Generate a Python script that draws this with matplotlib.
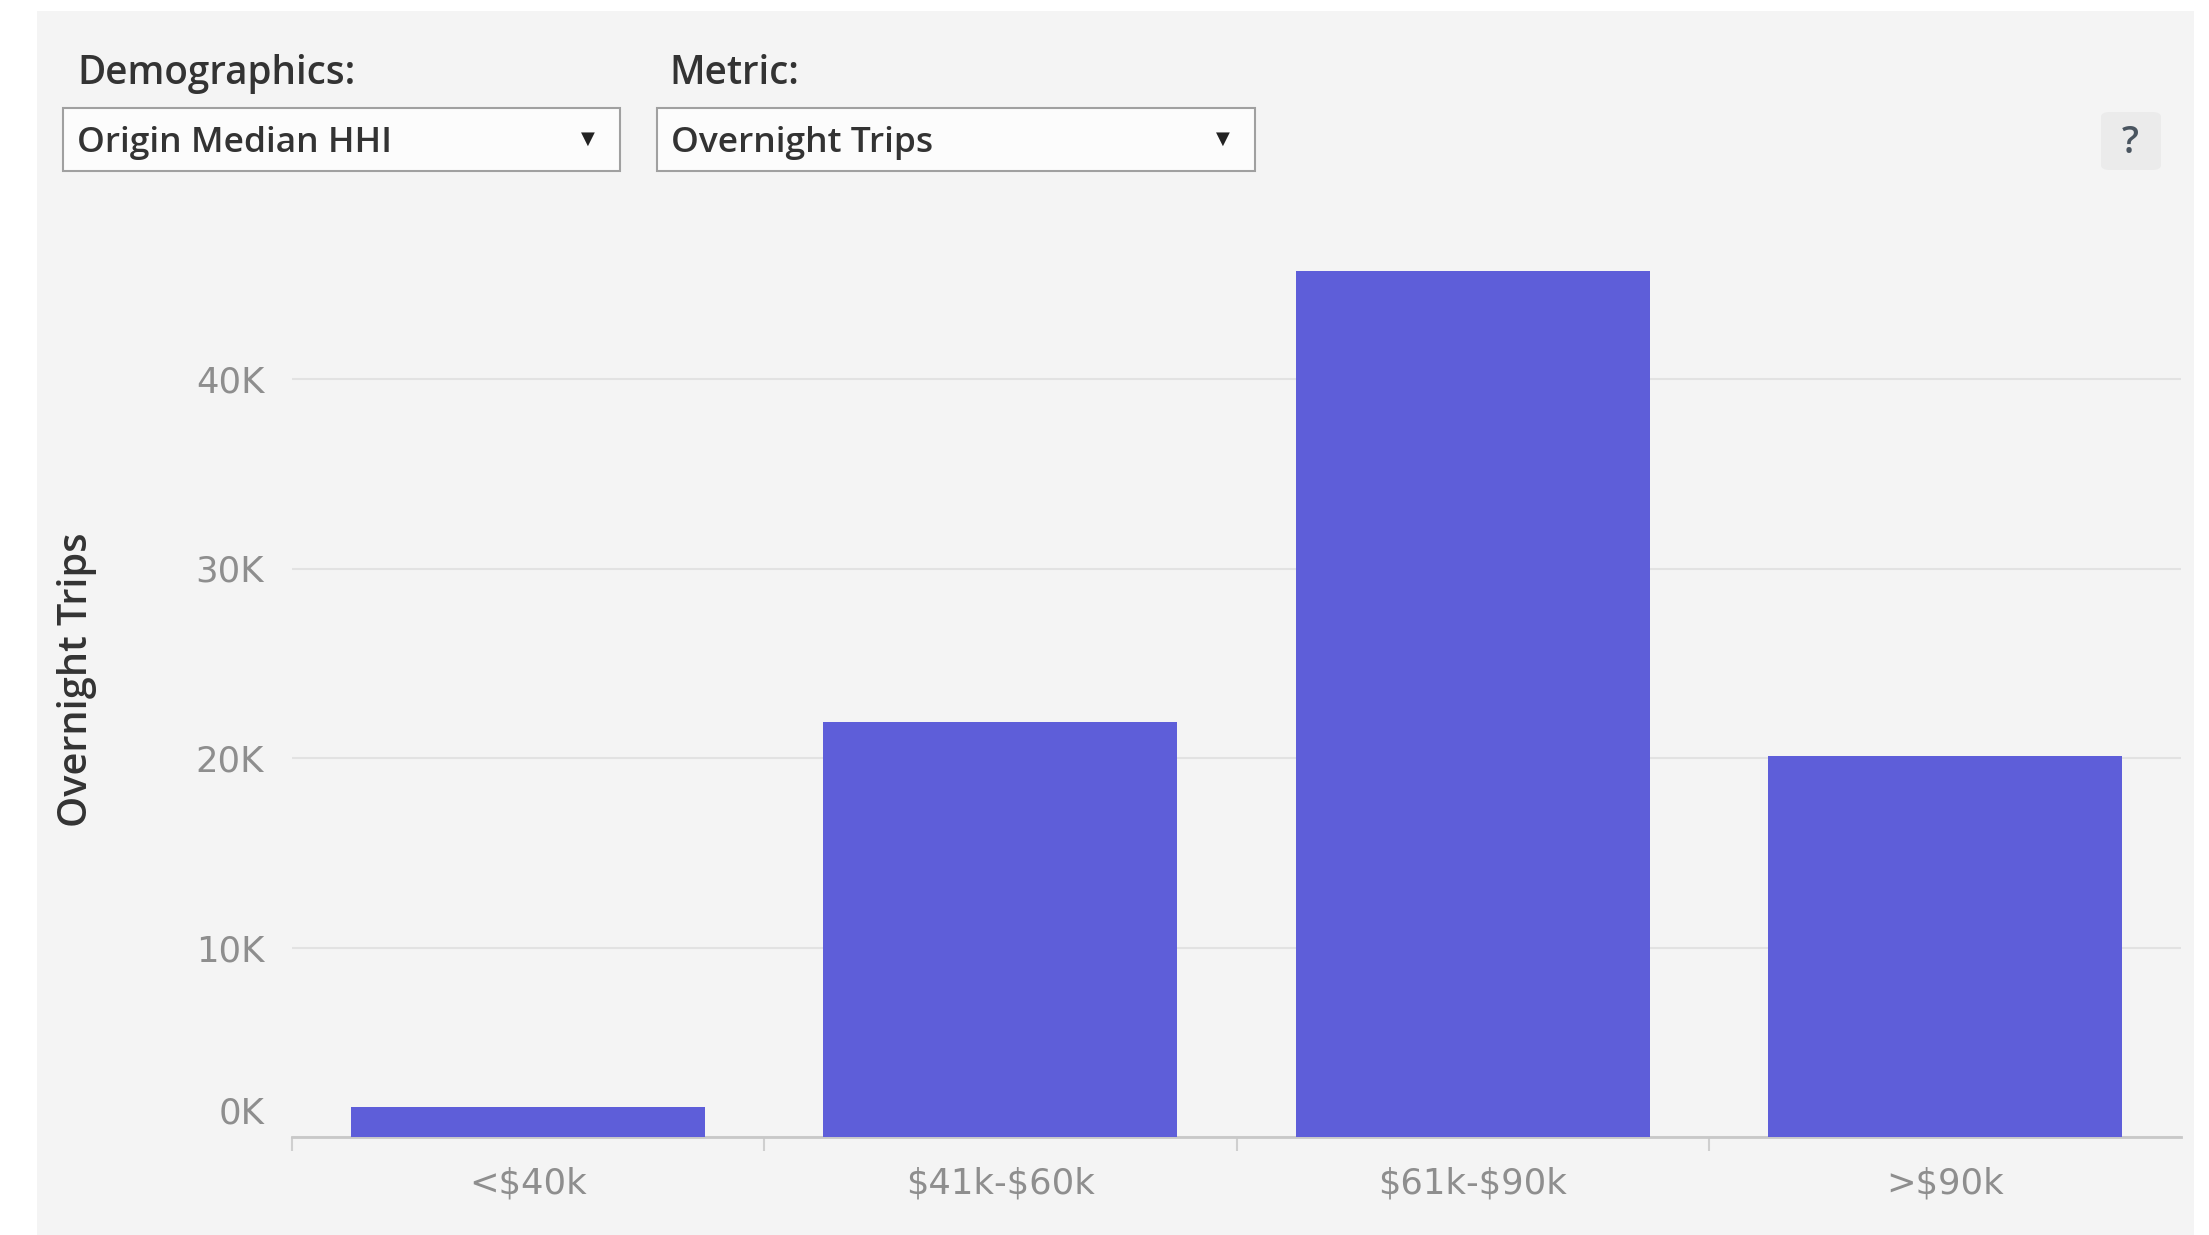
import matplotlib
matplotlib.use("Agg")
import matplotlib.pyplot as plt
from matplotlib.patches import Rectangle, FancyBboxPatch
from matplotlib.transforms import ScaledTranslation

# data
categories = ["<$40k", "$41k-$60k", "$61k-$90k", ">$90k"]
overnight_trips = [1600, 21900, 45700, 20100]
y_ticks = [0, 10000, 20000, 30000, 40000]
y_tick_labels = ["0K", "10K", "20K", "30K", "40K"]

W, H = 2209, 1235
plt.rcParams["text.parse_math"] = False
plt.rcParams["font.family"] = ["DejaVu Sans"]
fig = plt.figure(figsize=(W / 100, H / 100), dpi=100, facecolor="white")
ui_font = ["Open Sans", "DejaVu Sans"]

def fx(px):
    return px / W

def fy(py):
    return 1 - py / H

# grey dashboard panel
fig.patches.append(Rectangle((fx(37), 0), fx(2194) - fx(37), fy(11), transform=fig.transFigure,
                             facecolor="#f4f4f4", edgecolor="none", zorder=0))

# filter headers and dropdowns
fig.text(fx(77), fy(74), "Demographics:", fontsize=27.8, color="#333333", va="center", ha="left",
         family=ui_font, weight="semibold")
fig.text(fx(669), fy(74), "Metric:", fontsize=27.8, color="#333333", va="center", ha="left",
         family=ui_font, weight="semibold")
for x0, x1, label in [(63, 620, "Origin Median HHI"), (657, 1255, "Overnight Trips")]:
    fig.patches.append(Rectangle((fx(x0), fy(171)), fx(x1) - fx(x0), fy(108) - fy(171),
                                 transform=fig.transFigure, facecolor="#fcfcfc",
                                 edgecolor="#a0a0a0", linewidth=1.5, zorder=1))
    fig.text(fx(x0 + 14), fy(143), label, fontsize=25.5, color="#333333", va="center", ha="left",
             family=ui_font, weight="semibold", zorder=3)
    fig.text(fx(x1 - 32), fy(139), "▼", fontsize=13, color="#222222", va="center", ha="center",
             zorder=3)

# help button
fig.patches.append(FancyBboxPatch((fx(2101), fy(170)), fx(2161) - fx(2101), fy(112) - fy(170),
                                  boxstyle="round,pad=0,rounding_size=0.004",
                                  transform=fig.transFigure, facecolor="#ebebeb",
                                  edgecolor="none", zorder=1))
fig.text(fx(2130), fy(143), "?", fontsize=27, color="#4a5560", va="center", ha="center",
         family=ui_font, weight="semibold", zorder=3)

# chart
ax = fig.add_axes([fx(292), fy(1137), fx(2181) - fx(292), fy(1137 - 909.6) - fy(1137)])
ax.set_zorder(2)
ax.set_facecolor("none")
x = list(range(len(categories)))
ax.bar(x, overnight_trips, width=0.75, color="#5e5ed9", zorder=3)
ax.set_xlim(-0.5, 3.5)
ax.set_ylim(0, 48000)

ax.set_yticks(y_ticks)
ax.set_yticklabels(y_tick_labels)
ax.yaxis.grid(True, color="#e2e2e2", linewidth=1.5, zorder=0)
ax.tick_params(axis="y", length=0, pad=20, labelsize=25.5, labelcolor="#8e8e8e")
# Tableau lifts the zero label above the baseline
ax.get_yticklabels()[0].set_transform(ax.get_yticklabels()[0].get_transform()
                                      + ScaledTranslation(0, 0.27, fig.dpi_scale_trans))

ax.set_xticks(x)
ax.set_xticklabels(categories)
ax.set_xticks([-0.5, 0.5, 1.5, 2.5], minor=True)
ax.tick_params(axis="x", which="major", length=0, pad=21, labelsize=25.5, labelcolor="#8e8e8e")
ax.tick_params(axis="x", which="minor", length=10, width=1.5, color="#cfcfcf")

for side in ["top", "right", "left"]:
    ax.spines[side].set_visible(False)
ax.spines["bottom"].set_color("#c8c8c8")
ax.spines["bottom"].set_linewidth(2)

fig.text(fx(77), fy(680), "Overnight Trips", rotation=90, fontsize=28.5, color="#333333",
         va="center", ha="center", family=ui_font, weight="semibold")

fig.savefig("out.png", dpi=100, facecolor="white")
